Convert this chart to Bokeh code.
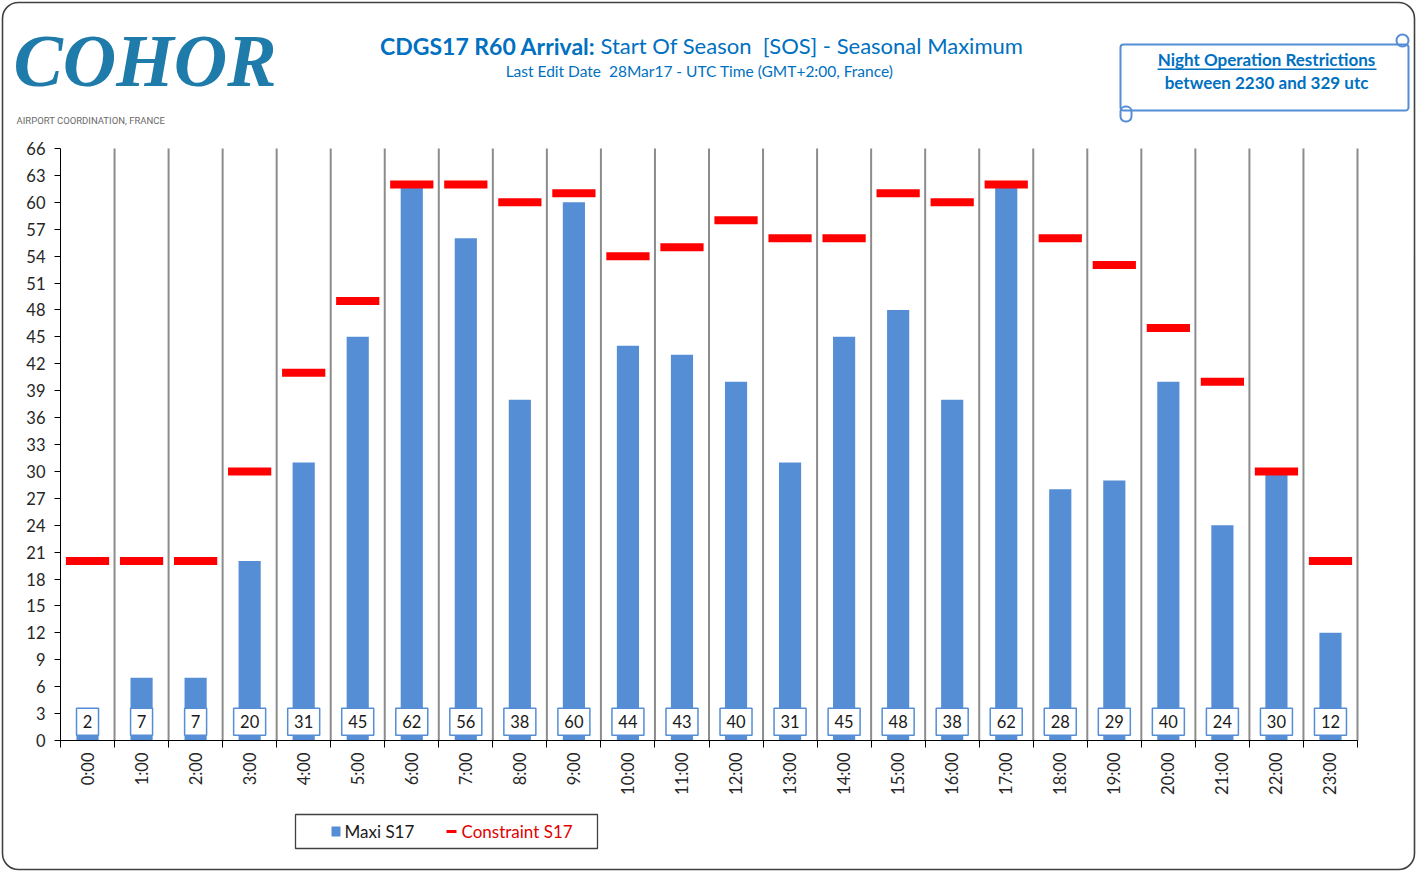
import math
from bokeh.plotting import figure
from bokeh.models import Range1d, FixedTicker, Label, BoxAnnotation, ColumnDataSource
from bokeh.core.properties import value
from bokeh.embed import file_html
from bokeh.resources import INLINE

hours = ["0:00", "1:00", "2:00", "3:00", "4:00", "5:00", "6:00", "7:00", "8:00", "9:00",
         "10:00", "11:00", "12:00", "13:00", "14:00", "15:00", "16:00", "17:00", "18:00",
         "19:00", "20:00", "21:00", "22:00", "23:00"]
maxi_s17 = [2, 7, 7, 20, 31, 45, 62, 56, 38, 60, 44, 43, 40, 31, 45, 48, 38, 62, 28, 29, 40, 24, 30, 12]
constraint_s17 = [20, 20, 20, 30, 41, 49, 62, 62, 60, 61, 54, 55, 58, 56, 56, 61, 60, 62, 56, 53, 46, 40, 30, 20]
y_ticks = [0, 3, 6, 9, 12, 15, 18, 21, 24, 27, 30, 33, 36, 39, 42, 45, 48, 51, 54, 57, 60, 63, 66]

BLUE = "#558ED5"
TBLUE = "#0070C0"
FONT = "Lato"
NBSP = "\u00a0"

# page / plot-area geometry (pixels)
W, H = 1416, 871
FL, FR, FT, FB = 60, 1357, 148, 740
X0, X1 = -0.5, len(hours) - 0.5
Y0, Y1 = 0, 66
kx = (X1 - X0) / (FR - FL)
ky = (Y1 - Y0) / (FB - FT)

idx = list(range(len(hours)))
txt = [str(v) for v in maxi_s17]
src = ColumnDataSource(dict(
    x=idx, maxi=maxi_s17, cons=constraint_s17,
    lab_y=[2.1] * len(hours), txt=txt, box_w=[12 + 10 * len(t) for t in txt]))
bounds = [i - 0.5 for i in range(1, len(hours) + 1)]
gsrc = ColumnDataSource(dict(x=bounds, y0=[Y0] * len(bounds), y1=[Y1] * len(bounds)))

p = figure(width=W, height=H, output_backend="svg", toolbar_location=None,
           x_range=Range1d(X0 - FL * kx, X1 + (W - FR) * kx),
           y_range=Range1d(Y0 - (H - FB) * ky, Y1 + FT * ky),
           min_border=0, min_border_left=0, min_border_right=0,
           min_border_top=0, min_border_bottom=0)
p.outline_line_color = None
p.xgrid.visible = False
p.ygrid.visible = False

# axes (fixed inside the canvas)
p.xaxis.fixed_location = Y0
p.xaxis.bounds = (X0, X1)
p.xaxis.ticker = FixedTicker(ticks=idx, minor_ticks=[i - 0.5 for i in range(len(hours) + 1)])
p.xaxis.major_label_overrides = {i: h for i, h in enumerate(hours)}
p.xaxis.major_label_orientation = math.pi / 2
p.xaxis.major_tick_out = 0
p.xaxis.major_tick_in = 0
p.xaxis.minor_tick_out = 7
p.xaxis.minor_tick_in = 0
p.xaxis.minor_tick_line_color = "black"
p.xaxis.axis_line_color = "black"
p.xaxis.major_label_standoff = 5
p.xaxis.major_label_text_font = FONT
p.xaxis.major_label_text_font_size = "16.5px"
p.xaxis.major_label_text_color = "#262626"

p.yaxis.fixed_location = X0
p.yaxis.bounds = (Y0, Y1)
p.yaxis.ticker = FixedTicker(ticks=y_ticks)
p.yaxis.major_tick_out = 6
p.yaxis.major_tick_in = 0
p.yaxis.minor_tick_line_color = None
p.yaxis.axis_line_color = "black"
p.yaxis.major_tick_line_color = "black"
p.yaxis.major_label_standoff = 9
p.yaxis.major_label_text_font = FONT
p.yaxis.major_label_text_font_size = "16.5px"
p.yaxis.major_label_text_color = "#262626"

# vertical separators between hours
p.segment(x0="x", y0="y0", x1="x", y1="y1", source=gsrc, line_color="#8c8c8c", line_width=2)

# data
p.vbar(x="x", top="maxi", bottom=0, width=0.41, fill_color=BLUE, line_color=None, source=src)
p.rect(x="x", y="cons", width=0.8, height=8, height_units="screen",
       fill_color="#FF0000", line_color=None, source=src)
p.rect(x="x", y="lab_y", width="box_w", width_units="screen", height=27, height_units="screen",
       fill_color="white", line_color=BLUE, line_width=1.5, source=src)
p.text(x="x", y="lab_y", text="txt", source=src, text_align="center", text_baseline="middle",
       text_font=value(FONT), text_font_size="16.5px", text_color="#1a1a1a")


def S(X, Y):
    return X, H - Y


def label(text, X, Y, size, color, align="left", style="normal", font=FONT):
    sx, sy = S(X, Y)
    p.add_layout(Label(x=sx, y=sy, x_units="screen", y_units="screen", text=text,
                       text_font=font, text_font_size=size, text_color=color,
                       text_align=align, text_baseline="middle", text_font_style=style))


def box(X0, Y0, X1, Y1, line=None, fill=None, lw=1.5, radius=0):
    l, t = S(X0, Y0)
    r, b = S(X1, Y1)
    p.add_layout(BoxAnnotation(left=l, right=r, top=t, bottom=b,
                               left_units="screen", right_units="screen",
                               top_units="screen", bottom_units="screen",
                               line_color=line, line_alpha=1, line_width=lw, fill_color=fill,
                               fill_alpha=1 if fill else 0, border_radius=radius,
                               level="overlay"))


# outer border
box(2, 2, 1414, 869, line="#404040", lw=1.6, radius=16)

# logo
label("COHOR", 13, 60, "74px", "#1E7BAA", style="bold italic", font="Liberation Serif")
label("AIRPORT COORDINATION, FRANCE", 16, 120, "9.5px", "#6a6a6a", font="Roboto")

# title
label("CDGS17 R60 Arrival:", 595, 45, "23px", TBLUE, align="right", style="bold")
label("Start Of Season " + NBSP + "[SOS] - Seasonal Maximum", 600, 45, "22px", TBLUE)
label("Last Edit Date " + NBSP + "28Mar17 - UTC Time (GMT+2:00, France)", 699, 70, "15.5px",
      TBLUE, align="center")

# night restrictions scroll
box(1120, 44, 1408, 110, line=BLUE, lw=2, radius=3)
box(1396, 34, 1408, 46, line=BLUE, lw=2, radius=6)
box(1120, 106, 1131, 121, line=BLUE, lw=2, radius=5)
label("Night Operation Restrictions", 1266, 59, "17px", TBLUE, align="center", style="bold")
box(1157, 68, 1376, 69.5, fill=TBLUE, line=None)
label("between 2230 and 329 utc", 1266, 82, "17px", TBLUE, align="center", style="bold")

# legend
box(295, 814, 597, 848, line="#404040", lw=1.3)
box(331, 826, 340, 836, fill=BLUE, line=None)
label("Maxi S17", 344, 831, "17px", "#1a1a1a")
box(446, 829.5, 456, 832.5, fill="#FF0000", line=None)
label("Constraint S17", 461, 831, "17px", "#E00000")

open("out.html", "w").write(file_html(p, INLINE))
